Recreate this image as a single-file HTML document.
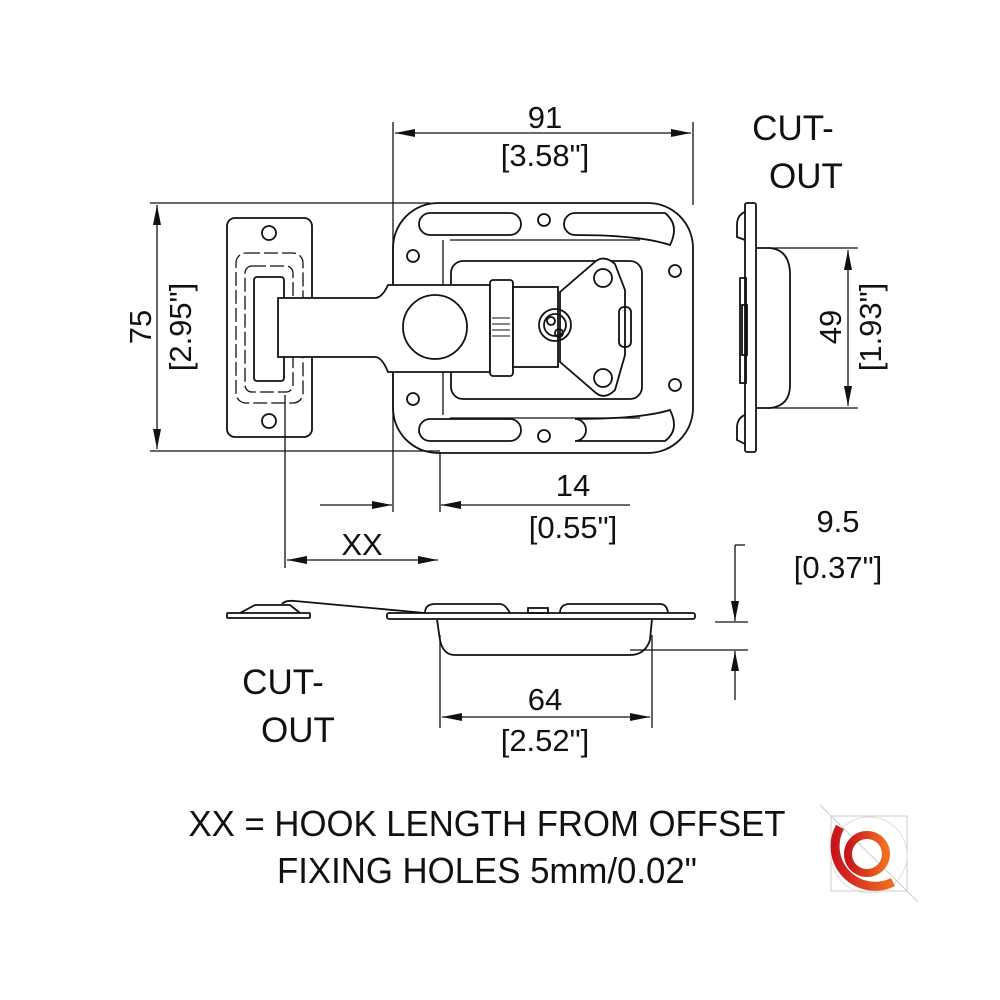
<!DOCTYPE html>
<html><head><meta charset="utf-8"><style>html,body{margin:0;padding:0;background:#fff}svg{display:block}</style></head>
<body>
<svg width="1000" height="1000" viewBox="0 0 1000 1000" xmlns="http://www.w3.org/2000/svg">
<defs>
<marker id="a" viewBox="0 0 20 8" refX="20" refY="4" markerWidth="20" markerHeight="8" markerUnits="userSpaceOnUse" orient="auto-start-reverse"><path d="M0,0 L20,4 L0,8 Z" fill="#111"/></marker>
<linearGradient id="g" x1="0" x2="1"><stop offset="0" stop-color="#c8161d"/><stop offset="1" stop-color="#f07020"/></linearGradient>
</defs>
<g fill="none" stroke="#111" stroke-width="1.3">
<line x1="393" y1="122" x2="393" y2="512"/>
<line x1="693" y1="122" x2="693" y2="205"/>
<line x1="150" y1="203" x2="430" y2="203"/>
<line x1="150" y1="451" x2="440" y2="451"/>
<line x1="768" y1="248" x2="858" y2="248"/>
<line x1="768" y1="408" x2="858" y2="408"/>
<line x1="440" y1="452" x2="440" y2="512"/>
<line x1="285" y1="395" x2="285" y2="568"/>
<line x1="440" y1="635" x2="440" y2="728"/>
<line x1="652" y1="635" x2="652" y2="728"/>
<line x1="715" y1="622" x2="748" y2="622"/>
<line x1="630" y1="650" x2="748" y2="650"/>
<line x1="735" y1="545" x2="745" y2="545"/>
<line x1="395" y1="133" x2="691" y2="133" marker-start="url(#a)" marker-end="url(#a)"/>
<line x1="157" y1="205" x2="157" y2="449" marker-start="url(#a)" marker-end="url(#a)"/>
<line x1="848" y1="250" x2="848" y2="406" marker-start="url(#a)" marker-end="url(#a)"/>
<line x1="320" y1="505" x2="392" y2="505" marker-end="url(#a)"/>
<line x1="630" y1="505" x2="441" y2="505" marker-end="url(#a)"/>
<line x1="287" y1="560" x2="438" y2="560" marker-start="url(#a)" marker-end="url(#a)"/>
<line x1="442" y1="717" x2="650" y2="717" marker-start="url(#a)" marker-end="url(#a)"/>
<line x1="735" y1="545" x2="735" y2="621" marker-end="url(#a)"/>
<line x1="735" y1="700" x2="735" y2="651" marker-end="url(#a)"/>

<g stroke-width="1.8">
<rect x="227" y="218" width="85" height="219" rx="8"/>
<circle cx="269" cy="233" r="7"/><circle cx="269" cy="421" r="7"/>
<rect x="254" y="277" width="30" height="104" rx="3"/>
</g>
<rect x="236" y="253" width="67" height="150" rx="10" stroke-dasharray="14 4"/>
<rect x="245" y="266" width="48" height="126" rx="7" stroke-dasharray="14 4"/>
<g stroke-width="1.8">
<rect x="393" y="203" width="300" height="250" rx="45"/>
<path d="M430,213 H510 A10,10 0 0 1 510,235 H430 A10,10 0 0 1 430,213Z"/>
<path d="M575,213 H665 Q680,225 670,245 Q640,235 575,235 A10,10 0 0 1 575,213Z"/>
<path d="M430,419 H510 A10,10 0 0 1 510,441 H430 A10,10 0 0 1 430,419Z"/>
<path d="M575,441 H665 Q680,430 670,410 Q640,419 575,419 A10,10 0 0 1 575,441Z"/>
<circle cx="544" cy="220" r="6"/><circle cx="544" cy="436" r="6"/>
<circle cx="413" cy="256" r="6"/><circle cx="413" cy="399" r="6"/>
<circle cx="675" cy="271" r="6"/><circle cx="675" cy="385" r="6"/>
<rect x="451" y="261" width="191" height="138" rx="12"/>
<line x1="443" y1="240" x2="443" y2="415" stroke-width="1.3"/>
<line x1="450" y1="240" x2="640" y2="240" stroke-width="1.3"/>
<line x1="450" y1="418" x2="640" y2="418" stroke-width="1.3"/>
<path d="M278,298 H375 Q382,298 388,285 H490 V372 H388 Q382,357 375,357 H278 Z" fill="#fff"/>
<circle cx="435" cy="327" r="32"/>
<rect x="490" y="280" width="23" height="96" rx="3" fill="#fff"/>
<rect x="513" y="287" width="45" height="80" fill="#fff"/>
<path d="M596,261 Q605,255 615,264 L625,290 V355 L615,390 Q605,400 596,393 L560,362 V292 Z" fill="#fff"/>
<circle cx="603" cy="278" r="9"/><circle cx="603" cy="378" r="9"/>
<circle cx="555" cy="325" r="16"/><circle cx="555" cy="325" r="11"/>
<circle cx="551" cy="321" r="4"/><circle cx="559" cy="333" r="4"/>
<rect x="619" y="307" width="12" height="40" rx="5"/>
</g>
<g stroke-width="1">
<line x1="492" y1="318" x2="510" y2="318"/><line x1="492" y1="324" x2="510" y2="324"/><line x1="492" y1="330" x2="510" y2="330"/><line x1="492" y1="336" x2="510" y2="336"/>
</g>
<g stroke-width="1.8">
<rect x="745" y="203" width="11" height="249" rx="2"/>
<path d="M756,248 H770 Q790,250 790,275 V385 Q790,406 770,408 H756"/>
<path d="M745,212 Q737,215 737,225 V237 L745,240"/>
<path d="M745,415 Q737,418 737,428 V440 L745,444"/>
<rect x="740" y="278" width="6" height="105"/>
<rect x="742" y="305" width="5" height="50"/>
</g>
<g stroke-width="1.8">
<rect x="227" y="613" width="83" height="5" rx="1"/>
<path d="M240,613 L255,605 H290 L300,613"/>
<path d="M282,604 Q285,600 295,601 L425,613"/>
<rect x="387" y="613" width="308" height="6" rx="2"/>
<path d="M425,613 Q425,604 435,604 H500 Q505,604 510,613"/>
<path d="M560,613 Q560,604 570,604 H660 Q667,604 668,613"/>
<rect x="528" y="608" width="20" height="5"/>
<path d="M437,619 Q438,627 440,640 Q443,655 455,655 H630 Q645,655 650,640 L652,619"/>
</g>
</g>
<g font-family="'Liberation Sans', Arial, sans-serif" fill="#111" text-anchor="middle" font-size="31">
<text x="545" y="128">91</text>
<text x="545" y="166">[3.58"]</text>
<text x="793" y="140" font-size="35">CUT-</text>
<text x="806" y="188" font-size="35">OUT</text>
<text transform="translate(151,327) rotate(-90)">75</text>
<text transform="translate(191,327) rotate(-90)">[2.95"]</text>
<text transform="translate(841,327) rotate(-90)">49</text>
<text transform="translate(881,327) rotate(-90)">[1.93"]</text>
<text x="573" y="496">14</text>
<text x="573" y="538">[0.55"]</text>
<text x="362" y="555">XX</text>
<text x="838" y="532">9.5</text>
<text x="838" y="578">[0.37"]</text>
<text x="283" y="694" font-size="35">CUT-</text>
<text x="298" y="742" font-size="35">OUT</text>
<text x="545" y="710">64</text>
<text x="545" y="751">[2.52"]</text>
<text x="487" y="836" font-size="36" textLength="597" lengthAdjust="spacingAndGlyphs">XX = HOOK LENGTH FROM OFFSET</text>
<text x="487" y="883" font-size="36" textLength="420" lengthAdjust="spacingAndGlyphs">FIXING HOLES 5mm/0.02"</text>
</g>
<g>
<rect x="831" y="816" width="76" height="75" fill="none" stroke="#ccc" stroke-width="1"/>
<line x1="820" y1="805" x2="918" y2="902" stroke="#ccc" stroke-width="1"/>
<circle cx="869" cy="855" r="38" fill="none" stroke="#ddd" stroke-width="1"/>
<path d="M840,827 A40,40 0 0 0 893,882" fill="none" stroke="url(#g)" stroke-width="9"/>
<circle cx="867" cy="854" r="19" fill="none" stroke="url(#g)" stroke-width="8"/>
</g>
</svg>
</body></html>
